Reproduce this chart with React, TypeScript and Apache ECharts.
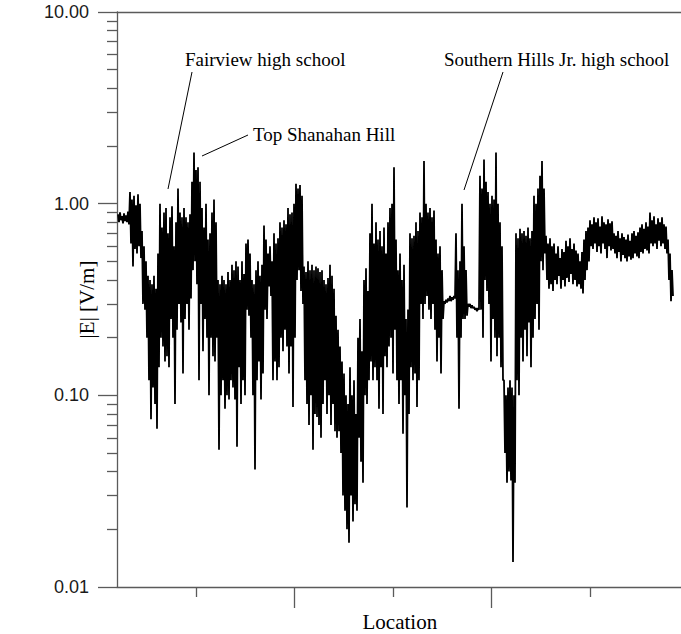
import React, { useEffect, useRef } from "react";
import * as echarts from "echarts";

// |E| along the drive, one high/low reading pair per two samples, west to east.
const traceFairview = [
  0.88, 0.8, 0.9, 0.82, 0.86, 0.79, 0.89, 0.81, 0.87, 0.8, 0.91, 0.78,
  1.15, 0.62, 1.05, 0.47,
  1.1, 0.58, 0.98, 0.55, 1.12, 0.6, 1.0, 0.52,
  0.72, 0.3, 0.6, 0.28, 0.5, 0.2, 0.42, 0.12,
  0.4, 0.075, 0.38, 0.11, 0.42, 0.09, 0.36, 0.067,
  0.55, 0.14, 1.0, 0.2, 0.75, 0.18, 0.9, 0.15,
  0.95, 0.16, 0.7, 0.14, 0.85, 0.25,
  0.97, 0.2, 0.6, 0.09, 0.8, 0.22,
  1.2, 0.3, 0.9, 0.24,
  0.85, 0.13, 0.95, 0.25,
  0.85, 0.3, 0.8, 0.22, 0.88, 0.32,
  1.3, 0.45, 1.85, 0.5, 1.5, 0.38,
  1.55, 0.12, 1.3, 0.3,
  0.95, 0.17, 0.75, 0.25, 1.0, 0.2,
  0.65, 0.1, 0.7, 0.2,
  0.9, 0.16, 1.05, 0.15, 0.8, 0.2,
  0.4, 0.052, 0.38, 0.1,
  0.42, 0.12, 0.4, 0.085, 0.38, 0.1, 0.44, 0.095, 0.4, 0.12,
];

const traceShanahan = [
  0.48, 0.11, 0.45, 0.095, 0.5, 0.054,
  0.47, 0.14, 0.4, 0.09, 0.5, 0.12, 0.43, 0.1,
  0.62, 0.28, 0.65, 0.26, 0.55, 0.2,
  0.4, 0.1, 0.38, 0.041,
  0.45, 0.12, 0.5, 0.15, 0.42, 0.095, 0.48, 0.13,
  0.77, 0.28, 0.65, 0.25,
  0.55, 0.37, 0.6, 0.33, 0.5, 0.12,
  0.7, 0.15, 0.62, 0.12, 0.66, 0.14,
  0.8, 0.2, 0.75, 0.17, 0.82, 0.22, 0.78, 0.18,
  0.95, 0.13, 0.88, 0.18,
  0.9, 0.087, 1.0, 0.2,
  1.27, 0.4, 1.2, 0.45, 1.25, 0.35, 1.1, 0.3,
  0.47, 0.12, 0.44, 0.09, 0.5, 0.07, 0.45, 0.1,
  0.48, 0.052, 0.45, 0.08, 0.47, 0.077,
  0.46, 0.07, 0.44, 0.06, 0.45, 0.09,
  0.4, 0.12, 0.38, 0.08, 0.41, 0.1,
  0.48, 0.07, 0.42, 0.09, 0.36, 0.065,
  0.26, 0.06, 0.22, 0.065, 0.18, 0.05,
  0.15, 0.03, 0.13, 0.025,
];

const traceValley = [
  0.1, 0.02, 0.09, 0.017,
  0.14, 0.03, 0.1, 0.022, 0.12, 0.027, 0.08, 0.025,
  0.2, 0.06, 0.25, 0.045, 0.17, 0.035,
  0.4, 0.1, 0.46, 0.09, 0.35, 0.12,
  0.7, 0.15, 1.0, 0.12, 0.62, 0.14,
  0.8, 0.12, 0.65, 0.085, 0.72, 0.14, 0.6, 0.08,
  0.75, 0.16, 0.55, 0.14, 0.8, 0.18,
  0.95, 0.2, 1.0, 0.13, 1.55, 0.22,
  0.65, 0.12, 0.45, 0.09, 0.55, 0.12, 0.4, 0.063, 0.48, 0.1,
  0.25, 0.026, 0.28, 0.08,
  0.7, 0.14, 0.66, 0.12, 0.68, 0.13,
  0.8, 0.087, 0.72, 0.12,
  0.9, 0.3, 0.85, 0.25, 1.67, 0.3,
  1.0, 0.33, 0.9, 0.28, 0.95, 0.25, 0.85, 0.3, 0.92, 0.22,
  0.65, 0.15, 0.55, 0.2,
  0.6, 0.13, 0.45, 0.25,
  0.31, 0.3, 0.315, 0.305, 0.32, 0.31, 0.33, 0.31, 0.325, 0.315, 0.33, 0.32,
  0.7, 0.2, 0.45, 0.085, 0.5, 0.2,
];

const traceSouthern = [
  1.0, 0.25, 0.6, 0.25,
  0.45, 0.26,
  0.3, 0.29, 0.3, 0.285, 0.295, 0.285, 0.29, 0.28, 0.285, 0.275, 0.285, 0.28,
  1.4, 0.28, 1.2, 0.2,
  1.7, 0.4, 1.3, 0.35,
  1.15, 0.3, 1.0, 0.15, 1.1, 0.25, 1.05, 0.2,
  1.85, 0.16,
  1.0, 0.2, 0.8, 0.14, 0.6, 0.12,
  0.12, 0.05, 0.1, 0.035, 0.11, 0.04,
  0.12, 0.036, 0.11, 0.0135, 0.1, 0.035,
  0.7, 0.12, 0.66, 0.1,
  0.74, 0.2, 0.7, 0.15, 0.72, 0.22, 0.68, 0.16, 0.75, 0.24, 0.66, 0.14, 0.72, 0.2,
  1.1, 0.25, 1.0, 0.3, 1.2, 0.22,
  1.4, 0.5, 1.67, 0.45, 1.2, 0.55,
  0.68, 0.4, 0.62, 0.36, 0.66, 0.38, 0.6, 0.35,
  0.62, 0.4, 0.55, 0.38, 0.6, 0.42, 0.52, 0.36, 0.58, 0.4, 0.56, 0.37,
  0.64, 0.41, 0.6, 0.39, 0.66, 0.43, 0.58, 0.38, 0.62, 0.4, 0.57, 0.37,
];

const traceEast = [
  0.55, 0.38, 0.5, 0.36, 0.56, 0.34,
  0.65, 0.4, 0.72, 0.45, 0.75, 0.5,
  0.82, 0.6, 0.78, 0.58, 0.85, 0.62, 0.8, 0.56, 0.84, 0.6, 0.76, 0.55,
  0.86, 0.62, 0.8, 0.58, 0.78, 0.52, 0.83, 0.6, 0.79, 0.57, 0.81, 0.58,
  0.7, 0.55, 0.68, 0.52, 0.72, 0.56, 0.66, 0.5, 0.7, 0.54, 0.67, 0.52,
  0.65, 0.5, 0.69, 0.53, 0.64, 0.51, 0.7, 0.52, 0.72, 0.55, 0.68, 0.53, 0.71, 0.52,
  0.75, 0.56, 0.78, 0.55, 0.74, 0.58, 0.8, 0.57, 0.76, 0.55,
  0.9, 0.62, 0.82, 0.6, 0.86, 0.62, 0.78, 0.58, 0.84, 0.64, 0.8, 0.6, 0.85, 0.62, 0.78, 0.58, 0.76, 0.55,
  0.65, 0.4, 0.55, 0.31, 0.45, 0.33,
];

// Samples are evenly spaced along the route; one axis division holds this many.
const SAMPLES_PER_DIVISION = 98.6;
// The stretch of route covered by the plot frame, in axis divisions.
const LOCATION_SPAN = 6;

const decadeTicks = [0.01, 0.1, 1, 10];
const minorTicks = [
  0.02, 0.03, 0.04, 0.05, 0.06, 0.07, 0.08, 0.09,
  0.2, 0.3, 0.4, 0.5, 0.6, 0.7, 0.8, 0.9,
  2, 3, 4, 5, 6, 7, 8, 9,
];
const longLocationTicks = [1.8, 3.8, 5.8];
const shortLocationTicks = [0.8, 2.8, 4.8];

const landmarks = [
  { text: "Fairview high school", x: 185, y: 59, from: [192, 72], to: [168, 189] },
  { text: "Top Shanahan Hill", x: 253, y: 134, from: [248, 135], to: [202, 156] },
  { text: "Southern Hills Jr. high school", x: 444, y: 59, from: [503, 72], to: [464, 190] },
];

const AXIS_COLOR = "#5a5a5a";
const SERIF = '"Liberation Serif", "Times New Roman", serif';
const SANS = '"Liberation Sans", Arial, sans-serif';

export default function App() {
  const ref = useRef<HTMLDivElement>(null);

  useEffect(() => {
    if (!ref.current) return;
    const chart = echarts.init(ref.current, null, { renderer: "svg" });

    const field = ([] as number[]).concat(
      traceFairview,
      traceShanahan,
      traceValley,
      traceSouthern,
      traceEast
    );
    const points = field.map((v, i) => [(i + 1) / SAMPLES_PER_DIVISION, v]);

    const axisLine = { show: true, lineStyle: { color: AXIS_COLOR, width: 1.3 } };
    const tickStyle = { color: AXIS_COLOR, width: 1.3 };

    const graphic: any[] = [];
    landmarks.forEach((m) => {
      graphic.push({
        type: "text",
        x: m.x,
        y: m.y,
        silent: true,
        style: {
          text: m.text,
          fill: "#000",
          fontFamily: SERIF,
          fontSize: 19,
          verticalAlign: "middle",
          align: "left",
        },
      });
      graphic.push({
        type: "line",
        silent: true,
        shape: { x1: m.from[0], y1: m.from[1], x2: m.to[0], y2: m.to[1] },
        style: { stroke: "#000", lineWidth: 1 },
      });
    });

    chart.setOption({
      animation: false,
      backgroundColor: "#fff",
      // The frame runs past the right edge of the page, so no right border shows.
      grid: {
        left: 117,
        top: 12,
        width: LOCATION_SPAN * SAMPLES_PER_DIVISION,
        height: 575,
        outerBoundsMode: "none",
        containLabel: false,
      },
      xAxis: [
        {
          type: "value",
          min: 0,
          max: LOCATION_SPAN,
          position: "bottom",
          axisLine,
          axisTick: { show: true, length: 21, customValues: longLocationTicks, lineStyle: tickStyle },
          axisLabel: { show: false },
          splitLine: { show: false },
          name: "Location",
          nameLocation: "middle",
          nameGap: 24,
          nameMoveOverlap: false,
          nameTextStyle: {
            fontFamily: SERIF,
            fontSize: 21,
            color: "#000",
            padding: [0, 26, 0, 0],
          },
        },
        {
          type: "value",
          min: 0,
          max: LOCATION_SPAN,
          position: "bottom",
          axisLine: { show: false },
          axisTick: { show: true, length: 10, customValues: shortLocationTicks, lineStyle: tickStyle },
          axisLabel: { show: false },
          splitLine: { show: false },
        },
        {
          type: "value",
          min: 0,
          max: LOCATION_SPAN,
          position: "top",
          axisLine,
          axisTick: { show: false },
          axisLabel: { show: false },
          splitLine: { show: false },
        },
      ],
      yAxis: [
        {
          type: "log",
          logBase: 10,
          min: 0.01,
          max: 10,
          position: "left",
          axisLine,
          axisTick: { show: true, length: 19, customValues: decadeTicks, lineStyle: tickStyle },
          axisLabel: {
            show: true,
            customValues: decadeTicks,
            margin: 28,
            fontFamily: SANS,
            fontSize: 18,
            color: "#1a1a1a",
            formatter: (v: number) => Number(v).toFixed(2),
          },
          splitLine: { show: false },
          name: "|E| [V/m]",
          nameLocation: "middle",
          nameRotate: 90,
          nameGap: 20,
          nameMoveOverlap: false,
          nameTextStyle: { fontFamily: SERIF, fontSize: 21, color: "#000" },
        },
        {
          type: "log",
          logBase: 10,
          min: 0.01,
          max: 10,
          position: "left",
          axisLine: { show: false },
          axisTick: { show: true, length: 10, customValues: minorTicks, lineStyle: tickStyle },
          axisLabel: { show: false },
          splitLine: { show: false },
        },
      ],
      series: [
        {
          type: "line",
          xAxisIndex: 0,
          yAxisIndex: 0,
          data: points,
          symbol: "none",
          silent: true,
          lineStyle: { color: "#000", width: 1.8 },
        },
      ],
      graphic,
    });

    return () => chart.dispose();
  }, []);

  return (
    <div
      ref={ref}
      style={{ position: "fixed", left: 0, top: 0, width: 681, height: 634, background: "#fff" }}
    />
  );
}
